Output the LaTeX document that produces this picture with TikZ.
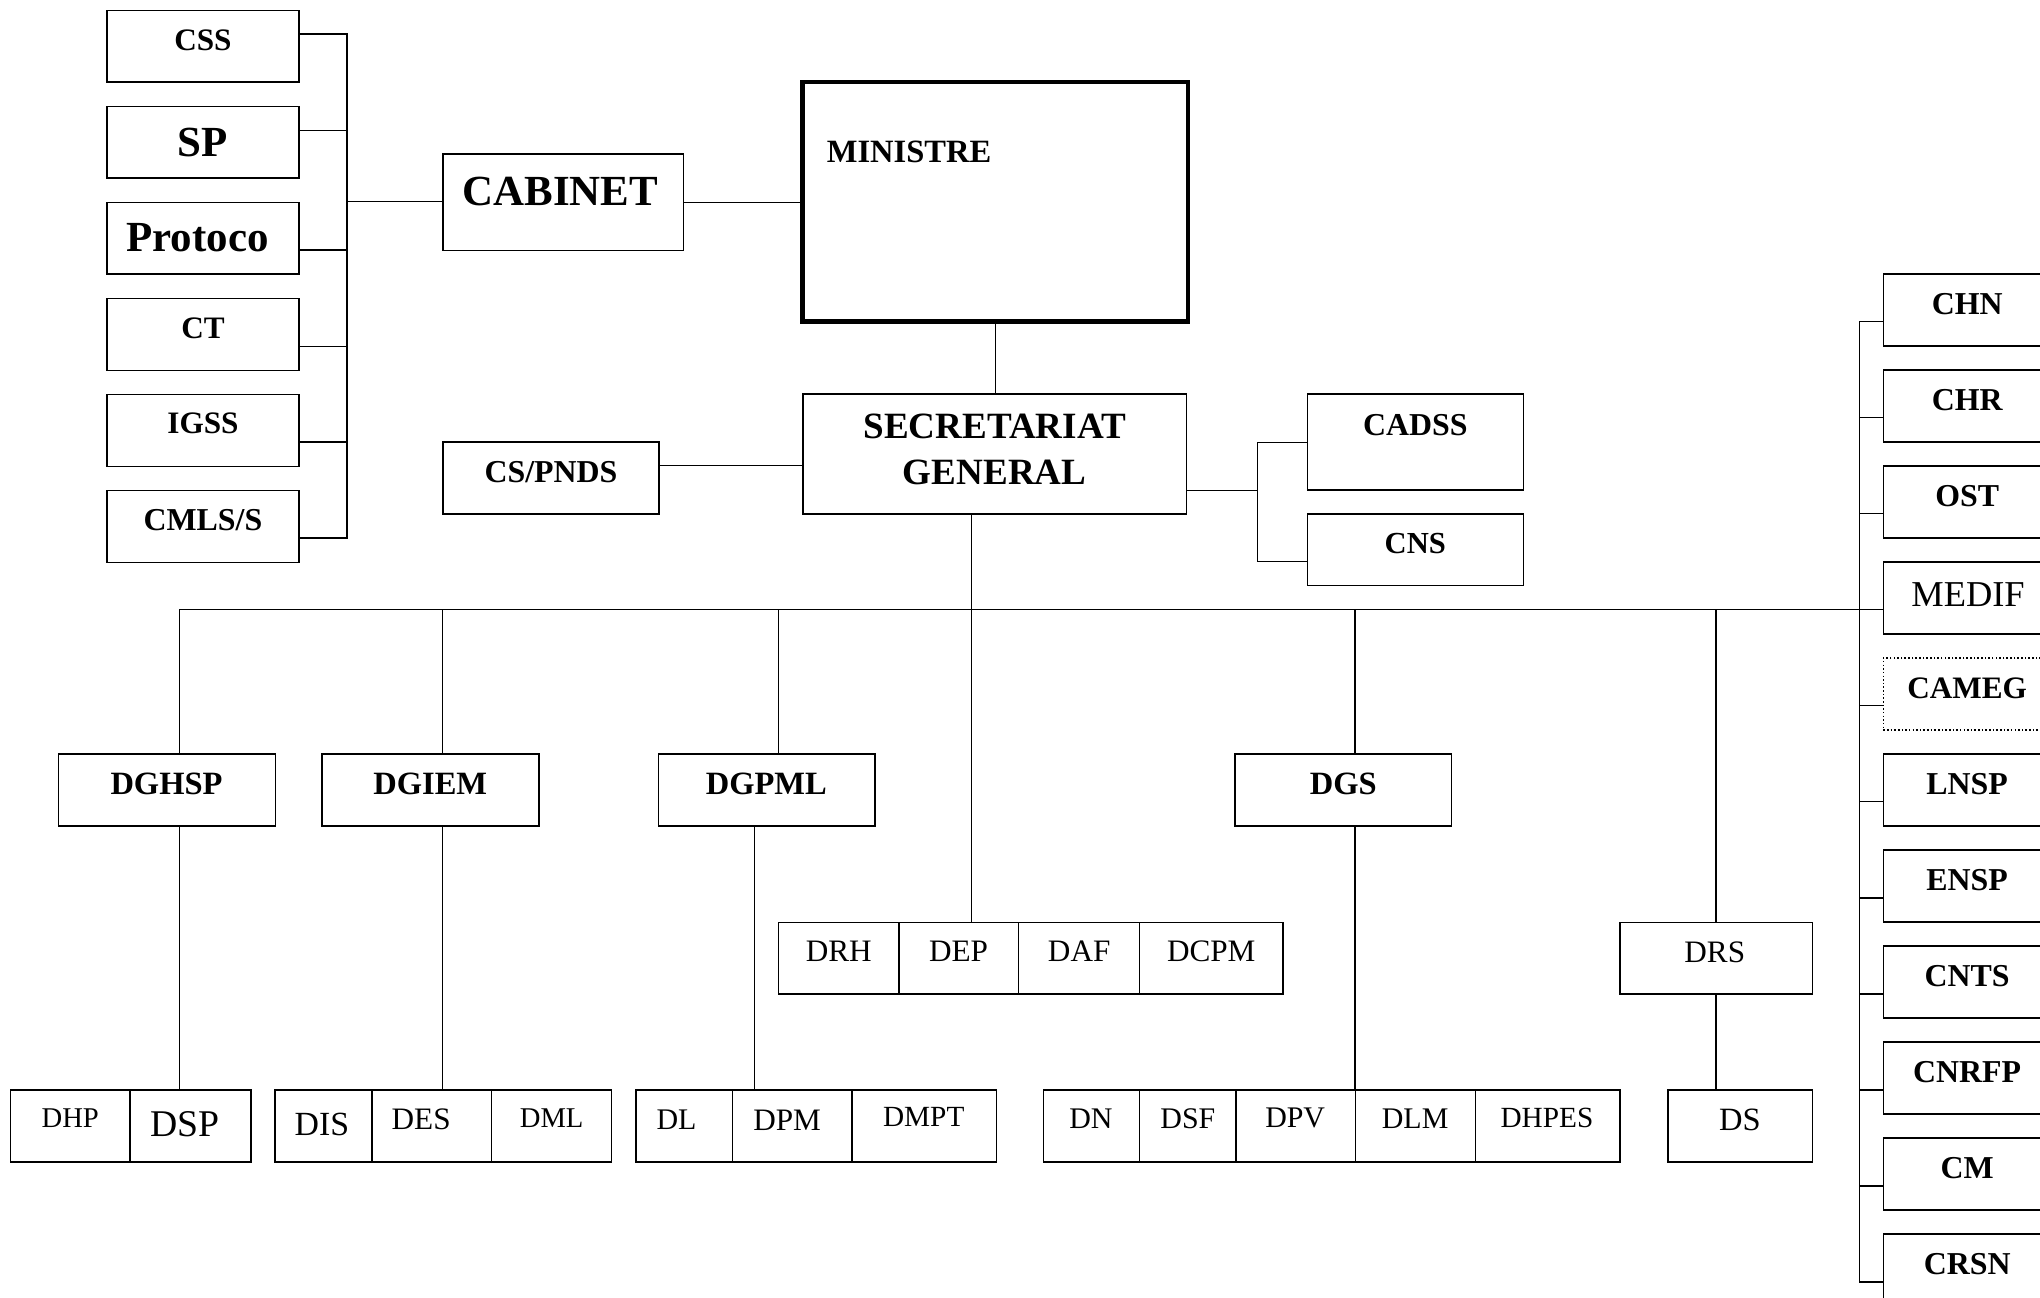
\documentclass[tikz,border=0pt]{standalone}
\usepackage{fontspec}
\setmainfont{Liberation Serif}
\newcommand\fb[1]{\fontsize{#1}{#1}\selectfont\bfseries}
\newcommand\fr[1]{\fontsize{#1}{#1}\selectfont}
\newcommand\bx[6][]{\node[bx,#1,anchor=north west,minimum width={(#4)-(#2)},minimum height={(#5)-(#3)}] (#6) at (#2,#3) {};}
\begin{document}
\begin{tikzpicture}[x=1pt,y=-1pt,
  bx/.style={draw,line width=1.2pt,inner sep=0pt,outer sep=0pt,rectangle},
  tx/.style={inner sep=0pt,outer sep=0pt},
  ln/.style={line width=1pt}]
\path[use as bounding box] (0,0) rectangle (1568,997);
\clip (0,0) rectangle (1568,997);

% ---------- left column ----------
\bx{82.4}{7.9}{229.8}{63.2}{CSS}
\bx{82.4}{81.7}{229.8}{137}{SP}
\bx{82.4}{155.5}{229.8}{210.8}{Proto}
\bx{82.4}{229.3}{229.8}{284.6}{CT}
\bx{82.4}{303.1}{229.8}{358.4}{IGSS}
\bx{82.4}{376.9}{229.8}{432.2}{CMLS}
\node[tx,font=\fb{24}] (CSSt) at (156,31) {CSS};
\node[tx,font=\fb{33}] (SPt) at (156,109.6) {SP};
\node[tx,font=\fb{33}] (Protot) at (151.8,183) {Protoco};
\node[tx,font=\fb{24}] (CTt) at (156,252) {CT};
\node[tx,font=\fb{24}] (IGSSt) at (156,325.6) {IGSS};
\node[tx,font=\fb{24.5}] (CMLSt) at (156,399.6) {CMLS/S};

\coordinate (lbus) at (266.7,155);
\path (CSS.north east) ++(0,18.3) coordinate (l1);
\path (SP.north east) ++(0,18.5) coordinate (l2);
\path (Proto.north east) ++(0,36.7) coordinate (l3);
\path (CT.north east) ++(0,36.9) coordinate (l4);
\path (IGSS.north east) ++(0,36.7) coordinate (l5);
\path (CMLS.north east) ++(0,36.7) coordinate (l6);
\foreach \c in {l1,l2,l3,l4,l5,l6} {\draw[ln] (\c) -| (lbus);}

% ---------- cabinet / ministre ----------
\bx{340.4}{118.5}{525.5}{192.4}{CAB}
\node[tx,font=\fb{33}] (CABt) at (430.7,147) {CABINET};
\bx[line width=3.5pt]{617}{63}{913}{247}{MIN}
\node[tx,font=\fb{25}] (MINt) at (635.5,117) [anchor=west] {MINISTRE};
\draw[ln] (lbus) -- (lbus -| CAB.west);
\draw[ln] (CAB.east) -- (CAB.east -| MIN.west);

% ---------- secretariat ----------
\bx{617}{303}{912}{395}{SG}
\node[tx,align=center,font=\fontsize{28.5}{35}\selectfont\bfseries] (SGt) at (764.5,345.5) {SECRETARIAT\\GENERAL};
\draw[ln] (MIN.south) -- (MIN.south |- SG.north);
\bx{340.4}{339.7}{506.7}{395}{CSP}
\node[tx,font=\fb{24.5}] (CSPt) at (423.5,362.8) {CS/PNDS};
\path (SG.north west) ++(0,55) coordinate (sgw);
\draw[ln] (sgw) -- (sgw -| CSP.east);

\bx{1005}{303}{1171}{376.8}{CADSS}
\node[tx,font=\fb{24.5}] (CADSSt) at (1087.8,327) {CADSS};
\bx{1005}{395}{1171}{450}{CNS}
\node[tx,font=\fb{23.5}] (CNSt) at (1087.8,418) {CNS};
\coordinate (rb) at (966.8,376.8);
\draw[ln] (SG.east |- rb) -- (rb);
\path (CADSS.north west) ++(0,36.9) coordinate (cadc);
\path (CNS.north west) ++(0,36.4) coordinate (cnsc);
\draw[ln] (cadc) -| (rb);
\draw[ln] (cnsc) -| (rb);

% ---------- directions generales ----------
\bx{45.1}{579.5}{211.8}{634.9}{DGHSP}
\bx{247.6}{579.5}{414.2}{634.9}{DGIEM}
\bx{506}{579.5}{672.7}{634.9}{DGPML}
\bx{949.3}{579.5}{1115.8}{634.9}{DGS}
\node[tx,font=\fb{25}] (DGHSPt) at (128,602.7) {DGHSP};
\node[tx,font=\fb{25}] (DGIEMt) at (330.7,602.7) {DGIEM};
\node[tx,font=\fb{25}] (DGPMLt) at (589,602.7) {DGPML};
\node[tx,font=\fb{25}] (DGSt) at (1032.5,602.7) {DGS};

% ---------- middle row ----------
\bx{598.5}{709}{691}{764}{DRH}
\bx{691}{709}{783}{764}{DEP}
\bx{783}{709}{876}{764}{DAF}
\bx{876}{709}{986}{764}{DCPM}
\bx{1245}{709}{1393}{764}{DRS}
\node[tx,font=\fr{24}] (DRHt) at (644.7,731.5) {DRH};
\node[tx,font=\fr{24}] (DEPt) at (736.8,731.5) {DEP};
\node[tx,font=\fr{24}] (DAFt) at (829.5,731.5) {DAF};
\node[tx,font=\fr{24}] (DCPMt) at (931,731.5) {DCPM};
\node[tx,font=\fr{24}] (DRSt) at (1318,731.7) {DRS};

% ---------- bottom row ----------
\bx{8}{838}{100}{893}{DHP}
\bx{100}{838}{193}{893}{DSP}
\bx{211.3}{838}{286}{893}{DIS}
\bx{286}{838}{377.8}{893}{DES}
\bx{377.8}{838}{470}{893}{DML}
\bx{488.7}{838}{563}{893}{DL}
\bx{563}{838}{655}{893}{DPM}
\bx{655}{838}{766}{893}{DMPT}
\bx{802}{838}{875.7}{893}{DN}
\bx{875.7}{838}{949.8}{893}{DSF}
\bx{949.8}{838}{1042}{893}{DPV}
\bx{1042}{838}{1134}{893}{DLM}
\bx{1134}{838}{1245}{893}{DHPES}
\bx{1282}{838}{1393}{893}{DS}
\node[tx,font=\fr{22}] (DHPt) at (54,859.7) {DHP};
\node[tx,font=\fr{29}] (DSPt) at (142,863.7) {DSP};
\node[tx,font=\fr{26}] (DISt) at (247.4,864) {DIS};
\node[tx,font=\fr{24}] (DESt) at (323.7,860.3) {DES};
\node[tx,font=\fr{22}] (DMLt) at (424,859.7) {DML};
\node[tx,font=\fr{23}] (DLt) at (520,860.7) {DL};
\node[tx,font=\fr{24}] (DPMt) at (605,860.7) {DPM};
\node[tx,font=\fr{22.5}] (DMPTt) at (710,858.7) {DMPT};
\node[tx,font=\fr{23}] (DNt) at (838.5,859.5) {DN};
\node[tx,font=\fr{23}] (DSFt) at (913,859.5) {DSF};
\node[tx,font=\fr{23}] (DPVt) at (995.5,859.5) {DPV};
\node[tx,font=\fr{23}] (DLMt) at (1087.7,859.5) {DLM};
\node[tx,font=\fr{22.5}] (DHPESt) at (1189,859.5) {DHPES};
\node[tx,font=\fr{25}] (DSt) at (1337.3,860.5) {DS};

% ---------- right column ----------
\foreach \n/\k in {CHN/0,CHR/1,OST/2,MEDIF/3,LNSP/5,ENSP/6,CNTS/7,CNRFP/8,CM/9,CRSN/10} {
  \pgfmathsetmacro\tp{210.6+73.8*\k}
  \bx{1447.6}{\tp}{1640}{\tp+55.4}{\n}
}
\pgfmathsetmacro\tp{210.6+73.8*4}
\bx[dash pattern=on 1.2pt off 1.6pt,line width=1.1pt]{1447.6}{\tp}{1640}{\tp+55.4}{CAMEG}
\foreach \n/\k in {CHN/0,CHR/1,OST/2,LNSP/5,ENSP/6,CNTS/7,CNRFP/8,CM/9,CRSN/10} {
  \pgfmathsetmacro\ty{210.6+73.8*\k+23.2}
  \node[tx,font=\fb{24.5}] (\n t) at (1512,\ty) {\n};
}
\node[tx,font=\fr{28}] (MEDIFt) at (1512.7,457.3) {MEDIF};
\node[tx,font=\fb{24}] (CAMEGt) at (1512,529.3) {CAMEG};

\coordinate (rt) at (1429.2,247.3);
\coordinate (rbm) at (1429.2,985.3);
\draw[ln] (rt) -- (rbm);
\foreach \n in {CHN,CHR,OST,CAMEG,LNSP,ENSP,CNTS,CNRFP,CM,CRSN} {
  \path (\n.north west) ++(0,36.7) coordinate (k\n);
  \draw[ln] (k\n) -- (k\n -| rt);
}

% ---------- main bus ----------
\coordinate (bL) at (137.7,468.5);
\coordinate (b2) at (340.2,468.5);
\coordinate (b3) at (598.6,468.5);
\coordinate (b4) at (1041.5,468.5);
\coordinate (b5) at (1318.9,468.5);
\coordinate (sgb) at (746.6,468.5);
\coordinate (c3) at (580,468.5);
\draw[ln] (bL) -- (bL -| MEDIF.west);
\draw[ln] (SG.south -| sgb) -- (sgb |- DEP.north);
\draw[ln] (bL) -- (bL |- DGHSP.north);
\draw[ln] (b2) -- (b2 |- DGIEM.north);
\draw[ln] (b3) -- (b3 |- DGPML.north);
\draw[ln] (b4) -- (b4 |- DGS.north);
\draw[ln] (b5) -- (b5 |- DRS.north);
\draw[ln] (bL |- DGHSP.south) -- (bL |- DSP.north);
\draw[ln] (b2 |- DGIEM.south) -- (b2 |- DES.north);
\draw[ln] (c3 |- DGPML.south) -- (c3 |- DPM.north);
\draw[ln] (b4 |- DGS.south) -- (b4 |- DLM.north);
\draw[ln] (b5 |- DRS.south) -- (b5 |- DS.north);
\end{tikzpicture}
\end{document}
